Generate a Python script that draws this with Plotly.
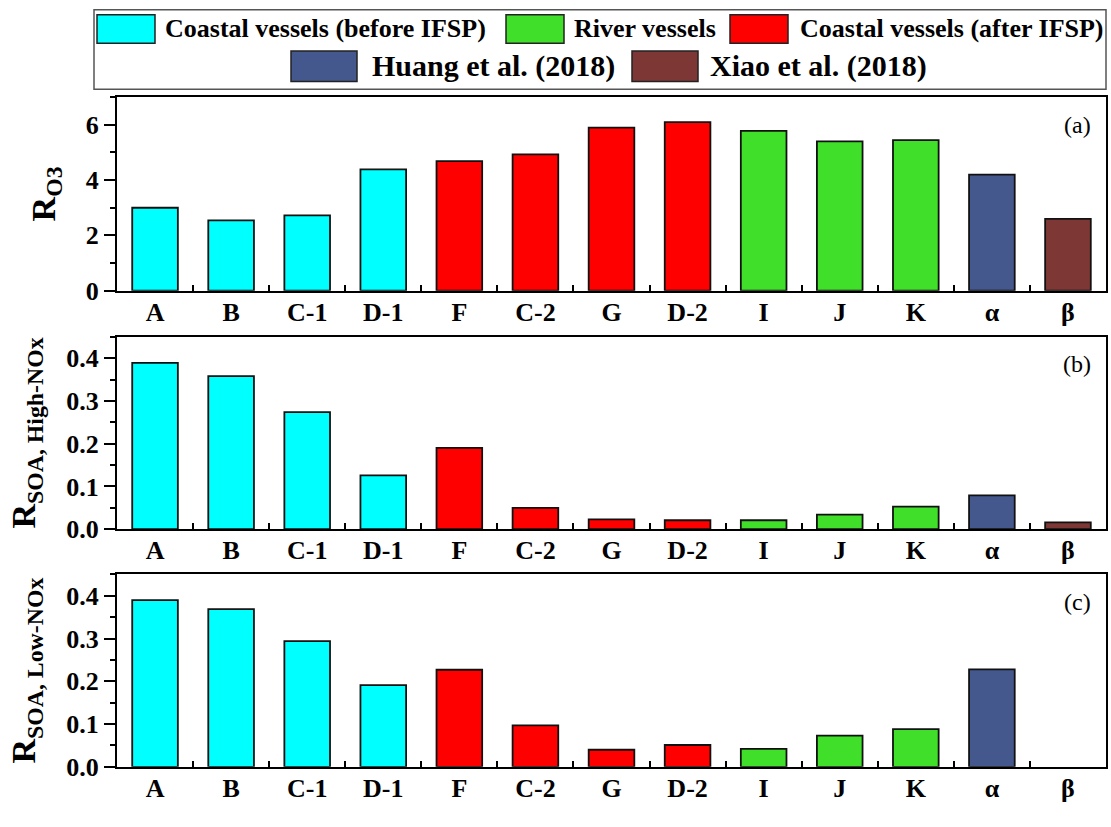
import plotly.graph_objects as go

# Vessel / study labels along the x axis
categories = ["A", "B", "C-1", "D-1", "F", "C-2", "G", "D-2", "I", "J", "K", "α", "β"]
groups = ["before", "before", "before", "before", "after", "after", "after", "after",
          "river", "river", "river", "huang", "xiao"]

# Ozone formation ratio
r_o3 = [3.0, 2.54, 2.72, 4.39, 4.69, 4.93, 5.9, 6.1, 5.78, 5.4, 5.45, 4.2, 2.6]
# SOA formation ratio, high-NOx condition
r_soa_high = [0.389, 0.358, 0.274, 0.126, 0.19, 0.05, 0.023, 0.021, 0.021, 0.034, 0.053, 0.079, 0.016]
# SOA formation ratio, low-NOx condition (no value reported for β)
r_soa_low = [0.39, 0.369, 0.294, 0.191, 0.227, 0.097, 0.040, 0.051, 0.042, 0.073, 0.088, 0.228, None]

group_colors = {
    "before": "#00FFFF",
    "river": "#40E02A",
    "after": "#FF0000",
    "huang": "#45588E",
    "xiao": "#7D3835",
}
legend_items = [
    ("before", "Coastal vessels (before IFSP)"),
    ("river", "River vessels"),
    ("after", "Coastal vessels (after IFSP)"),
    ("huang", "Huang et al. (2018)"),
    ("xiao", "Xiao et al. (2018)"),
]

W, H = 1111, 827
FONT = "Liberation Serif, Times New Roman, serif"


def px_x(x):
    return x / W


def px_y(y):
    return 1 - y / H


bar_colors = [group_colors[g] for g in groups]

fig = go.Figure()
panels = [
    (r_o3, "", 99, 296, [0, 7], 2, 1, None, "R<sub>O3</sub>", "(a)"),
    (r_soa_high, "2", 343, 539, [0, 0.45], 0.1, 0.05, ".1f", "R<sub>SOA, High-NOx</sub>", "(b)"),
    (r_soa_low, "3", 585, 781, [0, 0.45], 0.1, 0.05, ".1f", "R<sub>SOA, Low-NOx</sub>", "(c)"),
]

layout = {}
annotations = []
for vals, sfx, top, bot, yr, dt, mdt, fmt, title, tag in panels:
    fig.add_trace(go.Bar(
        x=categories, y=vals, width=0.6,
        marker=dict(color=bar_colors, line=dict(color="#111111", width=1.8)),
        xaxis="x" + sfx, yaxis="y" + sfx, showlegend=False,
    ))
    layout["xaxis" + sfx] = dict(
        domain=[px_x(117), px_x(1106)], anchor="y" + sfx,
        type="category", range=[-0.5, 12.5],
        showline=True, linecolor="black", linewidth=2, mirror=True,
        ticks="inside", tickson="boundaries", ticklen=6, tickwidth=2, tickcolor="black",
        tickfont=dict(family=FONT, size=26, color="black", weight="bold"),
        ticklabelstandoff=-3,
        showgrid=False, zeroline=False,
    )
    layout["yaxis" + sfx] = dict(
        domain=[px_y(bot), px_y(top)], anchor="x" + sfx,
        range=yr, dtick=dt, tick0=0, tickformat=fmt,
        showline=True, linecolor="black", linewidth=2, mirror=True,
        ticks="outside", ticklen=11, tickwidth=2, tickcolor="black",
        minor=dict(dtick=mdt, ticks="outside", ticklen=5, tickwidth=2, tickcolor="black"),
        tickfont=dict(family=FONT, size=26, color="black", weight="bold"),
        title=dict(text=title, standoff=20,
                   font=dict(family=FONT, size=34, color="black", weight="bold")),
        showgrid=False, zeroline=False,
    )
    annotations.append(dict(
        x=px_x(1093), y=px_y(top + 28), xref="paper", yref="paper",
        xanchor="right", yanchor="middle", text=tag, showarrow=False,
        font=dict(family=FONT, size=24, color="black"),
    ))

# Legend drawn as a framed box with two centred rows of swatches
shapes = [dict(type="rect", xref="paper", yref="paper",
               x0=px_x(94), x1=px_x(1106), y0=px_y(91), y1=px_y(10),
               line=dict(color="#555555", width=1.5), fillcolor="white", layer="above")]
swatches = {
    "before": (97, 155, 15, 44, 163, 26),
    "river": (506, 564, 15, 44, 572, 26),
    "after": (730, 788, 15, 44, 798, 26),
    "huang": (291, 357, 52, 83, 370, 30),
    "xiao": (632, 698, 52, 83, 708, 30),
}
for key, label in legend_items:
    x0, x1, y0, y1, tx, fs = swatches[key]
    shapes.append(dict(type="rect", xref="paper", yref="paper",
                       x0=px_x(x0), x1=px_x(x1), y0=px_y(y1), y1=px_y(y0),
                       line=dict(color="#222222", width=1.5),
                       fillcolor=group_colors[key], layer="above"))
    annotations.append(dict(
        x=px_x(tx), y=px_y((y0 + y1) / 2), xref="paper", yref="paper",
        xanchor="left", yanchor="middle", text=label, showarrow=False,
        font=dict(family=FONT, size=fs, color="black", weight="bold"),
    ))

fig.update_layout(
    width=W, height=H,
    margin=dict(l=0, r=0, t=0, b=0),
    paper_bgcolor="white", plot_bgcolor="white",
    bargap=0.4,
    shapes=shapes, annotations=annotations,
    **layout,
)

fig.write_html("out.html")
